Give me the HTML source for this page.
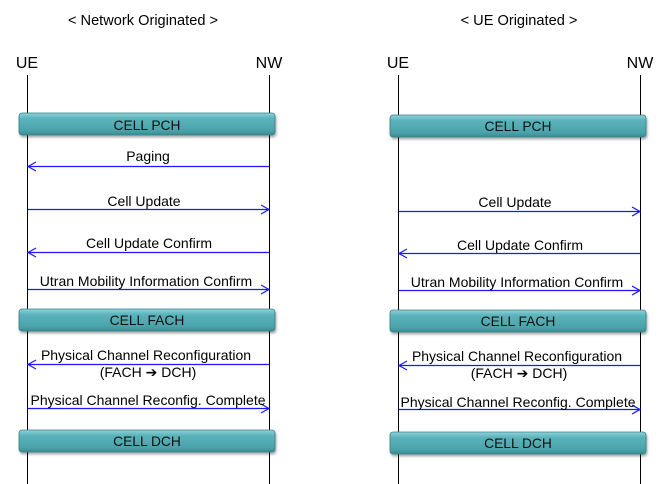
<!DOCTYPE html>
<html><head><meta charset="utf-8"><style>
html,body{margin:0;padding:0;background:#fff;}
svg{display:block;font-family:"Liberation Sans",Arial,sans-serif;}
</style></head><body>
<svg width="666" height="484" viewBox="0 0 666 484" xmlns="http://www.w3.org/2000/svg">
<defs>
<linearGradient id="g" x1="0" y1="0" x2="0" y2="1">
<stop offset="0" stop-color="#8fd3da"/><stop offset="0.25" stop-color="#5bb3bb"/><stop offset="0.8" stop-color="#4aa2aa"/><stop offset="1" stop-color="#3b8a92"/>
</linearGradient>
<filter id="sh" x="-5%" y="-30%" width="110%" height="170%"><feDropShadow dx="1" dy="2" stdDeviation="1.2" flood-color="#000" flood-opacity="0.35"/></filter>
</defs>
<g font-size="14.6" text-anchor="middle" fill="#000">
<text x="143" y="25">&lt; Network Originated &gt;</text>
<text x="519" y="25">&lt; UE Originated &gt;</text>
</g>
<g font-size="16" text-anchor="middle">
<text x="27" y="68">UE</text><text x="269" y="68">NW</text>
<text x="398" y="68">UE</text><text x="640" y="68">NW</text>
</g>
<g stroke="#000" stroke-width="1">
<line x1="27.5" y1="75" x2="27.5" y2="484"/><line x1="269.5" y1="75" x2="269.5" y2="484"/>
<line x1="398.5" y1="75" x2="398.5" y2="484"/><line x1="640.5" y1="75" x2="640.5" y2="484"/>
</g>
<g filter="url(#sh)" fill="url(#g)" stroke="#3a8088" stroke-width="0.8">
<rect x="19" y="113" width="256" height="22" rx="3"/>
<rect x="19" y="309" width="256" height="22" rx="3"/>
<rect x="19" y="430" width="256" height="22" rx="3"/>
<rect x="390" y="115" width="256" height="22" rx="3"/>
<rect x="390" y="310" width="256" height="22" rx="3"/>
<rect x="390" y="432" width="256" height="22" rx="3"/>
</g>
<g font-size="13.8" text-anchor="middle" fill="#111">
<text x="147" y="130">CELL PCH</text><text x="147" y="325">CELL FACH</text><text x="147" y="446">CELL DCH</text>
<text x="518" y="131">CELL PCH</text><text x="518" y="326">CELL FACH</text><text x="518" y="448">CELL DCH</text>
</g>
<g stroke="#1a1aff" stroke-width="1.2" fill="none">
<line x1="28" y1="166.5" x2="269" y2="166.5"/><polyline points="36,162 28,166.5 36,171"/>
<line x1="28" y1="209.5" x2="269" y2="209.5"/><polyline points="261,205 269,209.5 261,214"/>
<line x1="28" y1="252.5" x2="269" y2="252.5"/><polyline points="36,248 28,252.5 36,257"/>
<line x1="28" y1="289.5" x2="269" y2="289.5"/><polyline points="261,285 269,289.5 261,294"/>
<line x1="28" y1="364.5" x2="269" y2="364.5"/><polyline points="36,360 28,364.5 36,369"/>
<line x1="28" y1="408.5" x2="269" y2="408.5"/><polyline points="261,404 269,408.5 261,413"/>
<line x1="399" y1="211.5" x2="640" y2="211.5"/><polyline points="632,207 640,211.5 632,216"/>
<line x1="399" y1="253.5" x2="640" y2="253.5"/><polyline points="407,249 399,253.5 407,258"/>
<line x1="399" y1="290.5" x2="640" y2="290.5"/><polyline points="632,286 640,290.5 632,295"/>
<line x1="399" y1="365.5" x2="640" y2="365.5"/><polyline points="407,361 399,365.5 407,370"/>
<line x1="399" y1="409.5" x2="640" y2="409.5"/><polyline points="632,405 640,409.5 632,414"/>
</g>
<g font-size="14" text-anchor="middle" fill="#000">
<text x="148" y="161">Paging</text>
<text x="144" y="206">Cell Update</text>
<text x="149" y="248">Cell Update Confirm</text>
<text x="146" y="286">Utran Mobility Information Confirm</text>
<text x="146" y="360">Physical Channel Reconfiguration</text>
<text x="148" y="377">(FACH <tspan font-family="DejaVu Sans" font-weight="bold">➔</tspan> DCH)</text>
<text x="148" y="405">Physical Channel Reconfig. Complete</text>
<text x="515" y="207">Cell Update</text>
<text x="520" y="250">Cell Update Confirm</text>
<text x="517" y="287">Utran Mobility Information Confirm</text>
<text x="517" y="361">Physical Channel Reconfiguration</text>
<text x="519" y="378">(FACH <tspan font-family="DejaVu Sans" font-weight="bold">➔</tspan> DCH)</text>
<text x="518" y="407">Physical Channel Reconfig. Complete</text>
</g>
</svg>
</body></html>
